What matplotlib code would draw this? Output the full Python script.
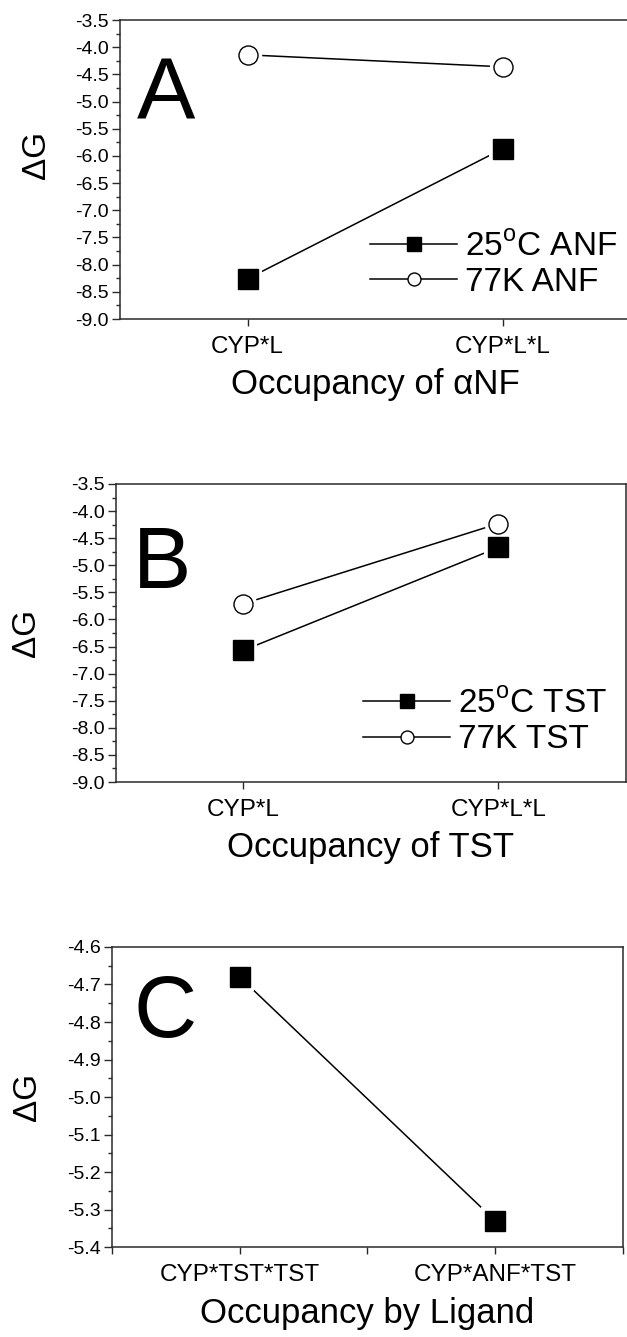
import numpy as np
import matplotlib
matplotlib.use('Agg')
import matplotlib.pyplot as plt
from matplotlib.ticker import MultipleLocator, FixedLocator

plt.rcParams['font.family'] = ['Liberation Sans', 'DejaVu Sans']
plt.rcParams['mathtext.fontset'] = 'custom'
plt.rcParams['mathtext.rm'] = 'Liberation Sans'

#==============================================================================
# data
#==============================================================================
labels_ab = ['CYP*L', 'CYP*L*L']
anf_25c = [-8.26, -5.87]
anf_77k = [-4.14, -4.36]
tst_25c = [-6.57, -4.67]
tst_77k = [-5.71, -4.23]

labels_c = ['CYP*TST*TST', 'CYP*ANF*TST']
dg_c = [-4.68, -5.33]

#==============================================================================
# style
#==============================================================================
spine_col = '#2a2a2a'
lw = 1.1
msq = 14.4
mci = 13.7
halo = 6.0


def series(ax, x, y, marker, ms, filled, label=None):
    fc = 'black' if filled else 'white'
    ax.plot(x, y, '-', marker=marker, ms=ms, mfc=fc, mec='black', mew=1.0,
            color='black', lw=lw, label=label, zorder=1)
    # white gap between line and marker, origin style
    ax.plot(x, y, ls='none', marker=marker, ms=ms + halo, mfc='white',
            mec='white', mew=0, zorder=2)
    ax.plot(x, y, ls='none', marker=marker, ms=ms, mfc=fc, mec='black',
            mew=1.0, zorder=3)


def frame(ax, labels, ylo, yhi, ymaj, ymin, xlabel, letter, letter_xy,
          ylab_xy=(-0.145, 0.5), mid_ticks=False):
    xs = np.arange(1, len(labels) + 1)
    ax.set_xlim(0.5, len(labels) + 0.5)
    ax.set_ylim(ylo, yhi)
    ax.set_xticks(xs)
    ax.set_xticklabels(labels, fontsize=17.5)
    if mid_ticks:
        ax.xaxis.set_minor_locator(FixedLocator([0.5, 1.5, 2.5]))
    ax.yaxis.set_major_locator(MultipleLocator(ymaj))
    ax.yaxis.set_minor_locator(MultipleLocator(ymin))
    ax.yaxis.set_major_formatter(matplotlib.ticker.FormatStrFormatter('%.1f'))
    for lab in ax.get_yticklabels():
        lab.set_fontsize(14)
    ax.tick_params(axis='y', which='major', direction='out', length=6,
                   width=1.0, pad=2, color=spine_col)
    ax.tick_params(axis='y', which='minor', direction='out', length=3,
                   width=1.0, color=spine_col)
    ax.tick_params(axis='x', which='both', direction='out', length=5,
                   width=1.0, pad=7, color=spine_col)
    for s in ax.spines.values():
        s.set_linewidth(1.1)
        s.set_color(spine_col)
    ax.set_xlabel(xlabel, fontsize=25)
    ax.xaxis.set_label_coords(0.5, -0.165)
    ax.set_ylabel('ΔG', fontsize=24)
    ax.yaxis.set_label_coords(ylab_xy[0], ylab_xy[1])
    ax.text(letter_xy[0], letter_xy[1], letter, transform=ax.transAxes,
            fontsize=63, ha='left', va='baseline')


fig = plt.figure(figsize=(6.27, 13.37), dpi=100)

#%% panel A
axA = fig.add_axes([0.1914, 0.7614, 0.8134, 0.2236])
xa = np.arange(1, len(labels_ab) + 1)
series(axA, xa, anf_25c, 's', msq, True, '25$^{\\mathrm{o}}$C ANF')
series(axA, xa, anf_77k, 'o', mci, False, '77K ANF')
frame(axA, labels_ab, -9.0, -3.5, 0.5, 0.25, 'Occupancy of αNF', 'A',
      (0.033, 0.666), ylab_xy=(-0.133, 0.55))
axA.legend(loc='center left', bbox_to_anchor=(0.458, 0.182), frameon=False,
           fontsize=24, borderpad=0, handlelength=2.6, handletextpad=0.23,
           labelspacing=0.14, markerscale=0.68)

#%% panel B
axB = fig.add_axes([0.1850, 0.4151, 0.8134, 0.2229])
series(axB, xa, tst_25c, 's', msq, True, '25$^{\\mathrm{o}}$C TST')
series(axB, xa, tst_77k, 'o', mci, False, '77K TST')
frame(axB, labels_ab, -9.0, -3.5, 0.5, 0.25, 'Occupancy of TST', 'B',
      (0.033, 0.651))
axB.legend(loc='center left', bbox_to_anchor=(0.452, 0.201), frameon=False,
           fontsize=24, borderpad=0, handlelength=2.6, handletextpad=0.23,
           labelspacing=0.14, markerscale=0.68)

#%% panel C
axC = fig.add_axes([0.1786, 0.0673, 0.815, 0.2244])
xc = np.arange(1, len(labels_c) + 1)
series(axC, xc, dg_c, 's', msq, True)
frame(axC, labels_c, -5.4, -4.6, 0.1, 0.05, 'Occupancy by Ligand', 'C',
      (0.043, 0.70), ylab_xy=(-0.135, 0.5), mid_ticks=True)

plt.savefig('out.png', dpi=100)
